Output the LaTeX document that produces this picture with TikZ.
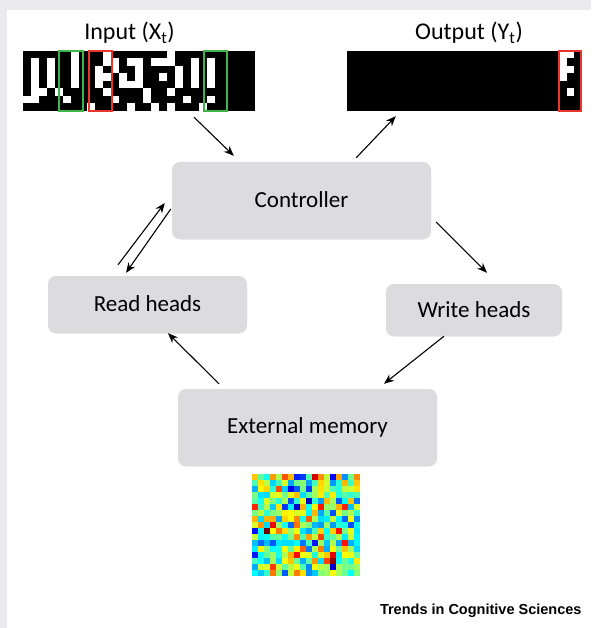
\documentclass[tikz,border=0pt]{standalone}
\usepackage{fontspec}
\setmainfont{Carlito}
\newfontfamily\trendsfont{Liberation Sans}
\usetikzlibrary{arrows.meta, shadows}

\definecolor{panelgray}{HTML}{EBEBED}
\definecolor{boxgray}{HTML}{DCDCDE}
\definecolor{framegreen}{HTML}{3DB54A}
\definecolor{framered}{HTML}{E8362B}

\begin{document}
\begin{tikzpicture}[x=1pt,y=-1pt,
  block/.style={rounded corners=8pt, fill=boxgray, inner sep=0pt,
    drop shadow={shadow xshift=0pt, shadow yshift=-1.5pt, opacity=0.25},
    font=\fontsize{23}{27}\selectfont},
  bits/.style={fill=black, inner sep=0pt, minimum height=60pt},
  arr/.style={-{Stealth[length=10pt,width=8pt]}, line width=1.1pt},
  gbox/.style={draw=framegreen, line width=1.3pt},
  rbox/.style={draw=framered, line width=1.3pt}]
\useasboundingbox (0,0) rectangle (591,628);
\fill[panelgray] (0,0) rectangle (591,628);
\fill[white] (7,10) rectangle (591,628);

% titles
\node[anchor=base, font=\fontsize{24}{28}\selectfont] (intitle) at (129.5,40) {Input (X\textsubscript{t})};
\node[anchor=base, font=\fontsize{24}{28}\selectfont] (outtitle) at (469,40) {Output (Y\textsubscript{t})};

% input bits
\node[bits, minimum width=232pt] (inbits) at (139,81) {};
\foreach \c/\r in {0/6,1/1,1/2,1/3,1/4,1/5,1/6,2/5,3/1,3/2,3/3,3/4,4/5,5/6,6/0,6/1,6/2,6/3,6/4,
  8/7,9/2,9/3,9/4,10/0,10/1,10/3,10/5,11/1,11/2,11/6,12/3,12/4,13/1,13/4,13/7,
  14/1,14/2,14/3,14/4,15/5,15/6,16/1,16/7,17/1,17/3,18/0,18/1,18/5,18/7,
  19/2,19/3,19/4,20/6,21/1,21/2,21/3,21/4,22/7,23/1,23/2,23/3,23/4,23/6}
  \fill[white] (23+8*\c,51+7.5*\r) rectangle ++(8,7.5);
\draw[gbox] (59,51) rectangle (83,111);
\draw[rbox] (89,51) rectangle (112,111);
\draw[gbox] (204,51) rectangle (227,111);

% output bits
\node[bits, minimum width=234pt] (outbits) at (464,81) {};
\foreach \c/\r in {0/0,1/0,0/1,0/2,1/2,0/3,1/5}
  \fill[white] (560+7*\c,51+7.5*\r) rectangle ++(7,7.5);
\draw[rbox] (559,51) rectangle (581,111);

% blocks
\node[block, minimum width=259pt, minimum height=76pt] (ctrl) at (301.5,200) {Controller};
\node[block, minimum width=199pt, minimum height=56pt] (read) at (147.5,304) {Read heads};
\node[block, minimum width=176pt, minimum height=51pt] (write) at (474,309.5) {Write heads};
\node[block, minimum width=259pt, minimum height=76pt] (mem) at (307.5,427) {External memory};

% memory matrix
\pgfmathsetseed{11}
\foreach \i in {0,...,17}
  \foreach \j in {0,...,16} {
    \pgfmathsetmacro{\v}{0.52+1.05*((rnd+rnd+rnd)/3-0.5)}
    \pgfmathsetmacro{\rr}{max(0,min(1,1.5-abs(4*\v-3)))}
    \pgfmathsetmacro{\gg}{max(0,min(1,1.5-abs(4*\v-2)))}
    \pgfmathsetmacro{\bb}{max(0,min(1,1.5-abs(4*\v-1)))}
    \definecolor{cellc}{rgb}{\rr,\gg,\bb}
    \fill[cellc] (252+6*\i,474+6*\j) rectangle ++(6,6);
  }

% arrows
\draw[arr] ([xshift=55pt,yshift=-6pt]inbits.south) -- ([xshift=62pt,yshift=6pt]ctrl.north west);
\draw[arr] ([xshift=-75pt,yshift=4pt]ctrl.north east) -- ([xshift=49pt,yshift=-5pt]outbits.south west);
\draw[arr] ([xshift=5pt,yshift=-22pt]ctrl.east) -- ([xshift=13pt,yshift=11pt]write.north);
\draw[arr] ([xshift=-29.5pt,yshift=11pt]read.north) -- ([xshift=-7pt,yshift=-3pt]ctrl.west);
\draw[arr] ([xshift=-1pt,yshift=-9pt]ctrl.west) -- ([xshift=-21.5pt,yshift=3pt]read.north);
\draw[arr] ([xshift=-88.5pt,yshift=5pt]mem.north) -- ([xshift=20.5pt,yshift=-1pt]read.south);
\draw[arr] ([xshift=-30pt,yshift=-1pt]write.south) -- ([xshift=76.5pt,yshift=5pt]mem.north);

\node[anchor=base east, font=\trendsfont\bfseries\fontsize{14.5}{16}\selectfont] (trends) at (585,614) {Trends in Cognitive Sciences};
\end{tikzpicture}
\end{document}
